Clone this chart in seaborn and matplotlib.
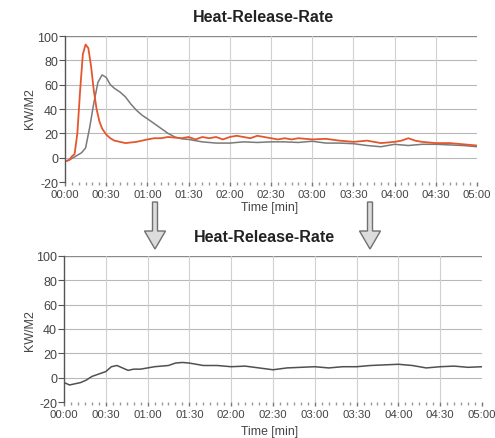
import matplotlib
matplotlib.use("Agg")
import matplotlib.pyplot as plt
from matplotlib.patches import FancyArrow
import seaborn as sns
import pandas as pd
import numpy as np

# ---- data (time in seconds, values in kW/m2) ----
orange_t = [0, 3, 5, 7, 9, 11, 13, 15, 17, 19, 21, 23, 25, 27, 30, 33, 36, 40, 44, 48, 52, 56,
            60, 65, 70, 75, 80, 85, 90, 95, 100, 105, 110, 115, 120, 125, 130, 135, 140, 145,
            150, 155, 160, 165, 170, 180, 190, 200, 210, 220, 230, 240, 245, 250, 255, 260,
            270, 280, 290, 300]
orange_v = [-3, -2, 1, 3, 20, 55, 85, 93, 90, 75, 55, 40, 30, 24, 19, 16, 14, 13, 12, 12.5, 13, 14,
            15, 16, 16, 17, 16.5, 16, 17, 15, 17, 16, 17, 15, 17, 18, 17, 16, 18, 17,
            16, 15, 16, 15, 16, 15, 15.5, 14, 13, 14, 12, 13, 14, 16, 14, 13,
            12, 12, 11, 10]

grey_t = [0, 3, 6, 9, 12, 15, 18, 21, 24, 27, 30, 33, 36, 40, 44, 48, 52, 56, 60, 65, 70, 75,
          80, 85, 90, 95, 100, 110, 120, 130, 140, 150, 160, 170, 180, 190, 200, 210, 220,
          230, 240, 250, 260, 270, 280, 290, 300]
grey_v = [-3, -2, 0, 2, 4, 8, 25, 45, 62, 68, 66, 60, 57, 54, 50, 44, 39, 35, 32, 28, 24, 20,
          17, 15.5, 15, 14, 13, 12, 12, 13, 12.5, 13, 13, 12.5, 13.5, 12, 12, 11.5, 10,
          9, 11, 10, 11, 11, 10.5, 10, 9]

bottom_t = [0, 4, 8, 12, 16, 20, 25, 30, 34, 38, 42, 46, 50, 55, 60, 65, 70, 75, 80, 85, 90, 95,
            100, 110, 120, 130, 140, 150, 160, 170, 180, 190, 200, 210, 220, 230, 240, 250,
            260, 270, 280, 290, 300]
bottom_v = [-4, -6, -5, -4, -2, 1, 3, 5, 9, 10, 8, 6, 7, 7, 8, 9, 9.5, 10, 12, 12.5, 12, 11,
            10, 10, 9, 9.5, 8, 6.5, 8, 8.5, 9, 8, 9, 9, 10, 10.5, 11, 10,
            8, 9, 9.5, 8.5, 9]

x_ticks = [0, 30, 60, 90, 120, 150, 180, 210, 240, 270, 300]
x_labels = ["00:00", "00:30", "01:00", "01:30", "02:00", "02:30", "03:00", "03:30",
            "04:00", "04:30", "05:00"]
y_ticks = [-20, 0, 20, 40, 60, 80, 100]
y_labels = ["-20", "0", "20", "40", "60", "80", "100"]

title = "Heat-Release-Rate"
x_title = "Time [min]"
y_title = "KW/M2"

sns.set_style("white")
plt.rcParams['font.family'] = ['Liberation Sans', 'DejaVu Sans']

fig = plt.figure(figsize=(4.95, 4.39), dpi=100)
ax1 = fig.add_axes([0.1313, 0.5831, 0.8323, 0.3326])
ax2 = fig.add_axes([0.1293, 0.0820, 0.8444, 0.3326])

df_o = pd.DataFrame({"t": orange_t, "v": orange_v})
df_g = pd.DataFrame({"t": grey_t, "v": grey_v})
df_b = pd.DataFrame({"t": bottom_t, "v": bottom_v})

sns.lineplot(data=df_g, x="t", y="v", ax=ax1, color="#7a7a7a", linewidth=1.1)
sns.lineplot(data=df_o, x="t", y="v", ax=ax1, color="#e4572e", linewidth=1.3)
sns.lineplot(data=df_b, x="t", y="v", ax=ax2, color="#505050", linewidth=1.1)

tick_col = "#444444"
for ax in (ax1, ax2):
    ax.set_xlim(0, 300)
    ax.set_ylim(-20, 100)
    ax.set_xticks(x_ticks)
    ax.set_xticklabels(x_labels, fontsize=8.2, color=tick_col)
    ax.set_yticks(y_ticks)
    ax.set_yticklabels(y_labels, fontsize=9, color=tick_col)
    ax.set_xticks(np.arange(0, 301, 5), minor=True)
    ax.set_xlabel("")
    ax.set_ylabel("")
    for y in [0, 20, 40, 60, 80]:
        ax.axhline(y, color="#b8b8b8", linewidth=0.8, zorder=0)
    ax.axhline(100, color="#8a8a8a", linewidth=1.0, zorder=0)
    for x in x_ticks[1:-1]:
        ax.axvline(x, color="#d0d0d0", linewidth=0.8, zorder=0)
    ax.spines["top"].set_visible(False)
    ax.spines["right"].set_visible(False)
    ax.spines["bottom"].set_visible(False)
    ax.spines["left"].set_color("#555555")
    ax.spines["left"].set_linewidth(1.0)
    ax.tick_params(axis="y", direction="out", length=4, width=0.8, color="#555555", pad=1,
                   left=True)
    ax.tick_params(axis="x", which="major", direction="out", length=3, width=1.0,
                   color="#777777", pad=2, bottom=True)
    ax.tick_params(axis="x", which="minor", direction="out", length=2, width=1.0,
                   color="#999999", bottom=True)

fig.text(0.533, 0.961, title, ha="center", va="center", fontsize=11.5, fontweight="bold",
         color="#222222")
fig.text(0.535, 0.458, title, ha="center", va="center", fontsize=11.5, fontweight="bold",
         color="#222222")
fig.text(0.545, 0.526, x_title, ha="center", va="center", fontsize=8.8, color=tick_col)
fig.text(0.545, 0.016, x_title, ha="center", va="center", fontsize=8.8, color=tick_col)
fig.text(0.061, 0.752, y_title, ha="center", va="center", fontsize=9, rotation=90,
         color=tick_col)
fig.text(0.061, 0.248, y_title, ha="center", va="center", fontsize=9, rotation=90,
         color=tick_col)

# arrows between the panels (figure pixel coords -> fraction)
W, H = 495.0, 439.0
for xc in (155, 370):
    arr = FancyArrow(xc / W, 1 - 203 / H, 0, -(47 / H), width=5 / W, head_width=21 / W,
                     head_length=18 / H, length_includes_head=True,
                     transform=fig.transFigure, facecolor="#dcdcdc", edgecolor="#707070",
                     linewidth=1.0)
    fig.patches.append(arr)

fig.savefig("out.png", dpi=100, facecolor="white")
